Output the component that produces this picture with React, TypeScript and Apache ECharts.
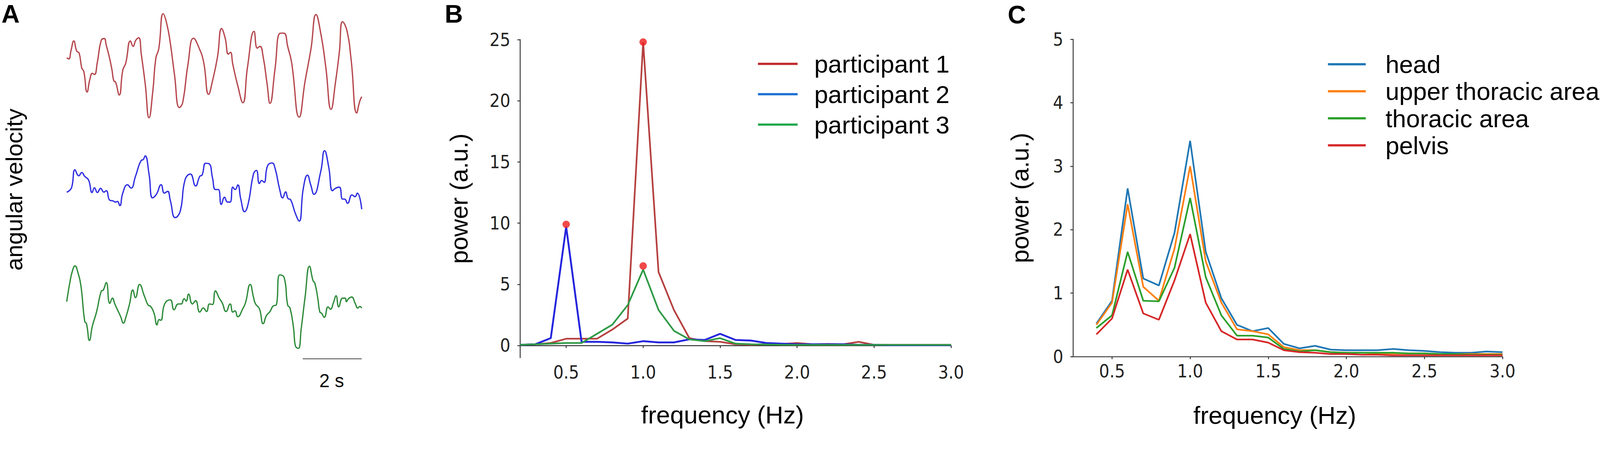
import React, { useEffect, useRef } from "react";
import * as echarts from "echarts";

// ---------- Panel A: angular velocity traces [time (s), value (a.u.)] ----------
const traceRed: number[][] = [
  [0.0, 0.75], [0.07, 0.65], [0.15, 1.4], [0.24, 2.15], [0.34, 1.3], [0.42, 1.15], [0.51, -0.1], [0.58, -0.4],
  [0.69, -2.1], [0.79, -1.0], [0.87, -0.55], [0.94, -0.65], [1.04, 0.4], [1.17, 2.2], [1.27, 2.35], [1.34, 1.8],
  [1.44, 0.85], [1.53, -0.2], [1.6, -1.2], [1.65, -1.25], [1.78, -2.35], [1.9, -0.3], [2.0, 0.3], [2.16, 2.15],
  [2.25, 1.7], [2.34, 2.2], [2.44, 2.42], [2.53, 1.0], [2.66, -1.4], [2.79, -4.25], [2.92, -2.0], [3.02, 0.7],
  [3.12, 1.5], [3.27, 4.42], [3.39, 3.6], [3.51, 2.0], [3.65, -0.6], [3.82, -3.4], [3.93, -3.0], [4.11, 0.2],
  [4.3, 2.38], [4.48, 1.6], [4.64, 0.4], [4.81, -2.3], [4.94, -1.2], [5.11, 0.8], [5.25, 3.18], [5.37, 2.4],
  [5.48, 1.05], [5.55, 1.2], [5.63, 0.2], [5.8, -1.6], [5.97, -3.0], [6.13, 0.0], [6.35, 2.95], [6.46, 1.55],
  [6.55, 1.7], [6.66, 0.8], [6.79, -1.4], [6.89, -3.05], [7.06, -0.2], [7.22, 2.78], [7.32, 2.8], [7.39, 2.78],
  [7.49, 1.7], [7.62, 0.4], [7.88, -4.2], [8.08, -1.2], [8.28, 1.5], [8.45, 4.35], [8.61, 2.8], [8.78, 0.0],
  [8.96, -3.55], [9.11, -1.3], [9.24, 1.2], [9.35, 3.75], [9.5, 3.0], [9.64, 0.6], [9.83, -3.85], [9.93, -2.9],
  [10.0, -2.5],
];

const traceBlue: number[][] = [
  [0.0, 0.38], [0.11, 0.55], [0.18, 0.9], [0.28, 2.25], [0.41, 1.75], [0.51, 2.02], [0.61, 1.7], [0.74, 1.4],
  [0.86, 0.35], [0.94, 0.75], [1.04, 0.35], [1.15, 0.7], [1.26, 0.38], [1.34, 0.5], [1.46, -0.3], [1.57, -0.35],
  [1.65, -0.45], [1.72, -0.4], [1.8, -0.75], [1.9, 0.3], [2.06, 1.0], [2.18, 0.72], [2.33, 1.7], [2.53, 3.05],
  [2.59, 3.1], [2.66, 3.42], [2.79, 1.9], [2.91, -0.1], [3.04, 0.2], [3.2, 1.0], [3.31, 0.3], [3.42, 0.45],
  [3.51, -0.3], [3.68, -1.75], [3.85, -1.2], [4.01, 1.4], [4.19, 1.9], [4.37, 0.9], [4.51, 1.7], [4.59, 1.82],
  [4.71, 2.8], [4.83, 2.75], [4.94, 1.6], [5.04, 0.6], [5.14, 0.6], [5.24, -0.65], [5.35, -0.05], [5.45, -0.45],
  [5.54, -0.45], [5.63, 0.8], [5.71, 0.6], [5.8, 0.98], [5.9, -0.2], [6.03, -1.26], [6.15, -0.6], [6.33, 1.9],
  [6.43, 2.2], [6.53, 1.1], [6.61, 1.35], [6.69, 1.2], [6.81, 2.6], [6.96, 2.82], [7.06, 2.4], [7.22, 0.6],
  [7.32, -0.1], [7.42, 0.4], [7.5, -0.15], [7.59, -0.25], [7.75, -1.4], [7.88, -2.04], [8.02, 0.7], [8.16, 1.8],
  [8.27, 1.0], [8.38, 0.2], [8.61, 2.1], [8.74, 3.85], [8.88, 2.5], [9.01, 0.5], [9.11, 0.7], [9.24, 0.8],
  [9.35, -0.2], [9.42, -0.2], [9.52, -0.55], [9.67, 0.15], [9.77, 0.0], [9.85, 0.3], [10.0, -1.05],
];

const traceGreen: number[][] = [
  [0.0, 0.3], [0.11, 2.0], [0.2, 3.0], [0.28, 3.38], [0.38, 2.8], [0.48, 1.7], [0.61, -1.4], [0.67, -1.6],
  [0.77, -3.04], [0.87, -1.8], [1.01, -0.6], [1.17, 1.2], [1.24, 1.3], [1.34, 1.95], [1.46, 0.15], [1.55, 0.6],
  [1.63, 0.1], [1.73, -0.45], [1.83, -1.0], [1.92, -1.55], [2.01, -1.0], [2.13, 0.1], [2.24, 1.3], [2.33, 0.65],
  [2.47, 1.78], [2.63, 0.8], [2.76, 0.0], [2.84, -0.1], [2.96, -0.7], [3.06, -1.7], [3.13, -1.25], [3.19, -1.3],
  [3.32, 0.1], [3.51, 0.45], [3.64, -0.4], [3.78, 0.1], [3.88, 0.1], [3.98, 0.55], [4.05, 0.35], [4.13, 0.95],
  [4.26, 0.1], [4.37, 0.38], [4.51, -0.6], [4.63, -0.25], [4.74, -0.55], [4.84, 0.1], [4.94, 0.05], [5.04, 1.22],
  [5.17, 0.6], [5.27, 0.2], [5.4, -0.55], [5.54, 0.1], [5.63, -0.6], [5.7, -0.5], [5.8, -1.0], [5.97, -0.3],
  [6.06, 0.2], [6.22, 1.78], [6.33, 0.7], [6.4, 0.1], [6.53, -0.3], [6.66, -1.6], [6.77, -0.9], [6.89, -0.55],
  [7.01, -0.05], [7.1, 0.0], [7.22, 2.6], [7.37, 2.38], [7.49, 0.0], [7.57, -0.25], [7.69, -2.0], [7.75, -3.5],
  [7.85, -3.73], [7.95, -2.0], [8.08, 0.7], [8.23, 3.35], [8.35, 2.1], [8.41, 1.9], [8.51, 0.6], [8.58, -0.6],
  [8.64, -0.7], [8.73, -1.05], [8.86, -0.15], [8.94, -0.35], [9.04, 0.2], [9.13, 0.8], [9.22, -0.15], [9.35, 0.6],
  [9.44, 0.6], [9.48, 0.3], [9.55, 0.55], [9.66, 0.7], [9.77, 0.2], [9.87, -0.25], [9.93, -0.12], [10.0, -0.25],
];

// scale bar: 2 s ending at the end of the traces
const scaleBar: number[][] = [[8, 0], [10, 0]];
const scaleBarLabel = "2 s";

// ---------- Panel B ----------
const freqB = [0.2, 0.3, 0.4, 0.5, 0.6, 0.7, 0.8, 0.9, 1.0, 1.1, 1.2, 1.3, 1.4, 1.5, 1.6, 1.7, 1.8, 1.9, 2.0, 2.1, 2.2, 2.3, 2.4, 2.5, 2.6, 2.7, 2.8, 2.9, 3.0];
const participant1 = [0.05, 0.1, 0.2, 0.55, 0.55, 0.55, 1.3, 2.2, 24.8, 6.0, 2.9, 0.6, 0.35, 0.3, 0.1, 0.05, 0.1, 0.12, 0.2, 0.1, 0.12, 0.1, 0.3, 0.05, 0.05, 0.05, 0.05, 0.05, 0.05];
const participant2 = [0.05, 0.1, 0.6, 9.7, 0.3, 0.3, 0.25, 0.15, 0.35, 0.25, 0.25, 0.5, 0.45, 0.95, 0.45, 0.4, 0.2, 0.15, 0.1, 0.1, 0.1, 0.1, 0.05, 0.05, 0.03, 0.03, 0.03, 0.03, 0.03];
const participant3 = [0.05, 0.1, 0.15, 0.2, 0.2, 0.95, 1.7, 3.3, 6.2, 2.9, 1.2, 0.5, 0.35, 0.6, 0.15, 0.1, 0.08, 0.06, 0.05, 0.05, 0.05, 0.05, 0.05, 0.05, 0.05, 0.05, 0.05, 0.05, 0.05];
const peaksB: number[][] = [[0.5, 9.9], [1.0, 24.8], [1.0, 6.5]];
const yTicksB = [0, 5, 10, 15, 20, 25];
const xTicks = [0.5, 1.0, 1.5, 2.0, 2.5, 3.0];

// ---------- Panel C ----------
const freqC = [0.4, 0.5, 0.6, 0.7, 0.8, 0.9, 1.0, 1.1, 1.2, 1.3, 1.4, 1.5, 1.6, 1.7, 1.8, 1.9, 2.0, 2.1, 2.2, 2.3, 2.4, 2.5, 2.6, 2.7, 2.8, 2.9, 3.0];
const head = [0.52, 0.88, 2.65, 1.23, 1.12, 1.95, 3.4, 1.65, 0.92, 0.5, 0.4, 0.45, 0.2, 0.13, 0.17, 0.11, 0.1, 0.1, 0.1, 0.12, 0.1, 0.09, 0.07, 0.06, 0.06, 0.08, 0.07];
const upperThoracic = [0.5, 0.85, 2.4, 1.1, 0.88, 1.7, 3.0, 1.5, 0.85, 0.43, 0.4, 0.35, 0.15, 0.1, 0.1, 0.07, 0.06, 0.06, 0.05, 0.05, 0.05, 0.05, 0.04, 0.04, 0.04, 0.04, 0.04];
const thoracic = [0.45, 0.65, 1.65, 0.88, 0.87, 1.4, 2.5, 1.25, 0.65, 0.33, 0.33, 0.3, 0.12, 0.08, 0.1, 0.07, 0.06, 0.06, 0.06, 0.06, 0.05, 0.05, 0.04, 0.04, 0.03, 0.03, 0.03];
const pelvis = [0.35, 0.6, 1.37, 0.68, 0.58, 1.2, 1.93, 0.85, 0.4, 0.27, 0.27, 0.22, 0.1, 0.07, 0.06, 0.04, 0.04, 0.03, 0.03, 0.02, 0.02, 0.02, 0.02, 0.02, 0.02, 0.02, 0.02];
const yTicksC = [0, 1, 2, 3, 4, 5];

const W = 4317;
const H = 1171;
const SANS = '"Liberation Sans", Arial, Helvetica, sans-serif';
const TICKFONT = '"DejaVu Sans Condensed", "DejaVu Sans", sans-serif';
const AXIS_COLOR = "#333333";

function zip(xs: number[], ys: number[]) {
  return xs.map((x, i) => [x, ys[i]]);
}

function freqAxes(gridIndex: number, xMin: number, yMin: number, yMax: number, yTicks: number[], xNameGap: number, yNameGap: number) {
  const axisLine = { show: true, lineStyle: { color: AXIS_COLOR, width: 2.5 } };
  const tickStyle = { color: AXIS_COLOR, width: 2.5 };
  const x = {
    type: "value", gridIndex, min: xMin, max: 3.0,
    axisLine, splitLine: { show: false },
    axisTick: { show: true, length: 7, customValues: xTicks, lineStyle: tickStyle },
    axisLabel: {
      customValues: xTicks, formatter: (v: number) => v.toFixed(1),
      fontFamily: TICKFONT, fontSize: 49, color: "#222", margin: 15,
    },
    name: "frequency (Hz)", nameLocation: "middle", nameGap: xNameGap,
    nameTextStyle: { fontFamily: SANS, fontSize: 67, color: "#000", padding: [0, 70, 0, 0] },
  };
  const y = {
    type: "value", gridIndex, min: yMin, max: yMax,
    axisLine, splitLine: { show: false },
    axisTick: { show: true, length: 7, customValues: yTicks, lineStyle: tickStyle },
    axisLabel: {
      customValues: yTicks, fontFamily: TICKFONT, fontSize: 49, color: "#222", margin: 26,
    },
    name: "power (a.u.)", nameLocation: "middle", nameGap: yNameGap, nameRotate: 90,
    nameTextStyle: { fontFamily: SANS, fontSize: 66, color: "#000" },
  };
  return { x, y };
}

export default function App() {
  const ref = useRef<HTMLDivElement>(null);
  const k = typeof window !== "undefined" && window.innerWidth > 0 ? window.innerWidth / W : 1;

  useEffect(() => {
    if (!ref.current) return;
    document.body.style.margin = "0";
    document.body.style.overflow = "hidden";
    const chart = echarts.init(ref.current, undefined, { renderer: "svg", width: W, height: H });

    const hiddenX = (gridIndex: number) => ({ type: "value", gridIndex, min: 0, max: 10, show: false });
    const hiddenY = (gridIndex: number, min: any, max: any) => ({ type: "value", gridIndex, min, max, show: false, scale: true });

    const axB = freqAxes(4, 0.2, -1, 25, yTicksB, 120, 132);
    const axC = freqAxes(5, 0.25, 0, 5, yTicksC, 124, 110);

    const traceLine = (idx: number, data: number[][], color: string) => ({
      type: "line", xAxisIndex: idx, yAxisIndex: idx, data, showSymbol: false, symbol: "none",
      smooth: 0.5, lineStyle: { color, width: 3.5 }, silent: true,
    });

    const specLine = (idx: number, name: string, data: number[][], color: string, width = 4.5) => ({
      type: "line", name, xAxisIndex: idx, yAxisIndex: idx, data, showSymbol: false, symbol: "none",
      lineStyle: { color, width }, itemStyle: { color }, silent: true,
    });

    const legendText = (pad: number) => ({
      fontFamily: SANS, fontSize: 67, lineHeight: 67, color: "#000", padding: [0, 0, 0, pad],
    });

    const option: any = {
      animation: false,
      backgroundColor: "#ffffff",
      grid: [
        { left: 180, top: 37, width: 796, height: 281 },
        { left: 180, top: 407, width: 796, height: 190 },
        { left: 180, top: 718, width: 796, height: 223 },
        { left: 180, top: 964, width: 796, height: 10 },
        { left: 1403, top: 107, width: 1163, height: 859 },
        { left: 2895, top: 106, width: 1159, height: 857 },
      ],
      xAxis: [hiddenX(0), hiddenX(1), hiddenX(2), hiddenX(3), axB.x, axC.x],
      yAxis: [
        hiddenY(0, "dataMin", "dataMax"),
        hiddenY(1, "dataMin", "dataMax"),
        hiddenY(2, "dataMin", "dataMax"),
        hiddenY(3, -1, 1),
        axB.y,
        axC.y,
      ],
      legend: [
        {
          orient: "vertical", left: 2040, top: 134, itemWidth: 107, itemHeight: 6, itemGap: 15,
          icon: "rect", selectedMode: false, textStyle: legendText(40),
          data: [
            { name: "participant 1", itemStyle: { color: "#c0282c" } },
            { name: "participant 2", itemStyle: { color: "#1c6fd1" } },
            { name: "participant 3", itemStyle: { color: "#1aa64a" } },
          ],
        },
        {
          orient: "vertical", left: 3578, top: 135, itemWidth: 102, itemHeight: 6, itemGap: 6,
          icon: "rect", selectedMode: false, textStyle: legendText(48),
          data: ["head", "upper thoracic area", "thoracic area", "pelvis"],
        },
      ],
      series: [
        traceLine(0, traceRed, "#b5474d"),
        traceLine(1, traceBlue, "#2f2fe0"),
        traceLine(2, traceGreen, "#2e8b3a"),
        {
          type: "line", xAxisIndex: 3, yAxisIndex: 3, data: scaleBar, symbol: "none",
          lineStyle: { color: "#555555", width: 2.5 }, silent: true,
        },
        specLine(4, "participant 1", zip(freqB, participant1), "#b5403f"),
        specLine(4, "participant 2", zip(freqB, participant2), "#2424dd", 5),
        specLine(4, "participant 3", zip(freqB, participant3), "#2e9a46"),
        {
          type: "scatter", name: "peaks", xAxisIndex: 4, yAxisIndex: 4, data: peaksB,
          symbolSize: 20, itemStyle: { color: "#ee1b1b" }, z: 5, silent: true,
        },
        specLine(5, "head", zip(freqC, head), "#1f77b4"),
        specLine(5, "upper thoracic area", zip(freqC, upperThoracic), "#ff7f0e"),
        specLine(5, "thoracic area", zip(freqC, thoracic), "#2ca02c"),
        specLine(5, "pelvis", zip(freqC, pelvis), "#d62728"),
      ],
      graphic: [
        { type: "text", x: 4, y: 38, style: { text: "A", fontFamily: SANS, fontWeight: "bold", fontSize: 68, fill: "#000", align: "left", verticalAlign: "middle" } },
        { type: "text", x: 1200, y: 38, style: { text: "B", fontFamily: SANS, fontWeight: "bold", fontSize: 68, fill: "#000", align: "left", verticalAlign: "middle" } },
        { type: "text", x: 2719, y: 40, style: { text: "C", fontFamily: SANS, fontWeight: "bold", fontSize: 68, fill: "#000", align: "left", verticalAlign: "middle" } },
        { type: "text", x: 38, y: 512, rotation: Math.PI / 2, style: { text: "angular velocity", fontFamily: SANS, fontSize: 63, fill: "#000", align: "center", verticalAlign: "middle" } },
        { type: "text", x: 895, y: 1028, style: { text: scaleBarLabel, fontFamily: SANS, fontSize: 50, fill: "#000", align: "center", verticalAlign: "middle" } },
      ],
    };

    chart.setOption(option);
    return () => chart.dispose();
  }, []);

  return (
    <div style={{ position: "fixed", left: 0, top: 0, width: "100vw", height: "100vh", overflow: "hidden", background: "#fff" }}>
      <div
        ref={ref}
        style={{ width: W, height: H, transform: `scale(${k})`, transformOrigin: "0 0" }}
      />
    </div>
  );
}
